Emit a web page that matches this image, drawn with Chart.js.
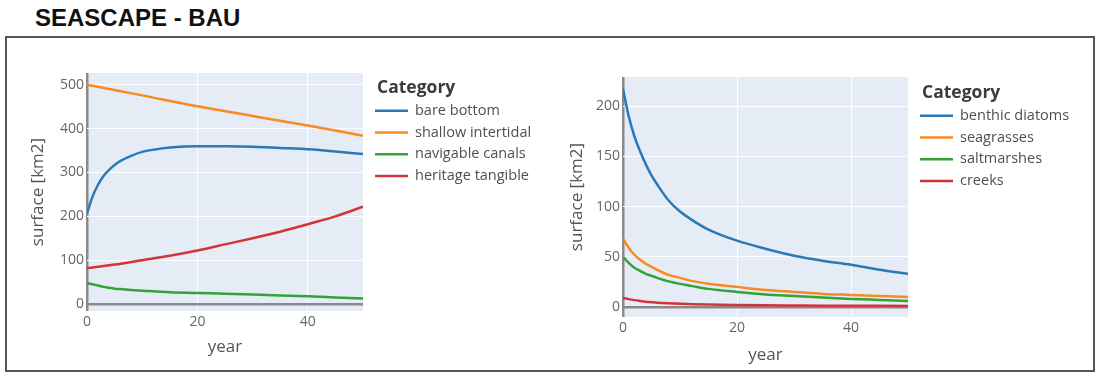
<!DOCTYPE html>
<html>
<head>
<meta charset="utf-8">
<script src="https://cdn.jsdelivr.net/npm/chart.js@4.4.1/dist/chart.umd.min.js"></script>
<style>
  html, body { margin: 0; padding: 0; background: #fff; width: 1097px; height: 375px; overflow: hidden; }
  #title { position: absolute; left: 35px; top: 4px; font: bold 24px "Liberation Sans", Arial, sans-serif; color: #111; white-space: nowrap; }
  #frame { position: absolute; left: 5px; top: 36px; width: 1086px; height: 332px; border: 2px solid #555; }
  canvas { position: absolute; }
  #leftChart { left: 10px; top: 40px; width: 540px; height: 325px; }
  #rightChart { left: 560px; top: 40px; width: 530px; height: 325px; }
</style>
</head>
<body>
<div id="title">SEASCAPE - BAU</div>
<div id="frame"></div>
<canvas id="leftChart" width="540" height="325"></canvas>
<canvas id="rightChart" width="530" height="325"></canvas>
<script>
// ---- Land-cover surfaces (km2) over the simulation years ----
const yearsLeft = [0, 1, 2, 3, 4, 5, 6, 8, 10, 12, 15, 20, 25, 30, 35, 40, 45, 50];
const bareBottom = [207, 245, 272, 292, 306, 317, 326, 338, 347, 352, 357, 360, 360, 359, 356, 353, 348, 342];
const navigableCanals = [48, 45, 42, 39, 37, 35, 34, 32, 30, 29, 27, 25, 23.5, 21.5, 19.5, 17.5, 15, 12.5];
const yearsLinear = [0, 10, 20, 30, 40, 50];
const shallowIntertidal = [500, 476, 451, 429, 407, 384];
const yearsHeritage = [0, 5, 10, 15, 20, 25, 30, 35, 40, 45, 50];
const heritageTangible = [82, 90, 100, 110, 122, 136, 150, 165, 182, 200, 222];

// ---- Habitat surfaces (km2) over the simulation years ----
const yearsRight = [0, 1, 2, 3, 4, 5, 6, 8, 10, 12, 15, 20, 25, 30, 35, 40, 45, 50];
const benthicDiatoms = [217, 190, 170, 155, 142, 131, 122, 106, 95, 87, 77, 66, 58, 51, 46, 42, 37, 33];
const seagrasses = [68, 59, 52, 47, 43, 40, 37, 32, 29, 26, 23, 20, 17, 15, 13, 12, 11, 10];
const saltmarshes = [50, 44, 39, 36, 33, 31, 29, 25.5, 23, 21, 18, 15, 12.5, 11, 9.5, 8, 7, 6];
const creeks = [9, 7.8, 6.8, 6, 5.3, 4.8, 4.3, 3.6, 3.1, 2.8, 2.4, 2, 1.7, 1.5, 1.3, 1.2, 1.1, 1];

const xTicks = [0, 20, 40];
const legendTitle = 'Category';

const BLUE = '#2a7ab8', ORANGE = '#f98a22', GREEN = '#33a338', RED = '#d3343a';
const FONT = '"Open Sans", "DejaVu Sans", sans-serif';

const pts = (xs, ys) => xs.map((x, i) => ({ x: x, y: ys[i] }));
const series = (label, xs, ys, color) => ({
  label: label,
  data: pts(xs, ys),
  borderColor: color,
  backgroundColor: color,
  borderWidth: 2.5,
  pointRadius: 0,
  cubicInterpolationMode: 'monotone',
  fill: false
});

// plot background
const plotBackground = {
  id: 'plotBackground',
  beforeDraw(chart) {
    const a = chart.chartArea, c = chart.ctx;
    c.save();
    c.fillStyle = '#e5ecf6';
    c.fillRect(a.left, a.top, a.right - a.left, a.bottom - a.top);
    c.restore();
  }
};

// legend with a bold heading and line swatches
const categoryLegend = {
  id: 'categoryLegend',
  afterDraw(chart, args, o) {
    const c = chart.ctx;
    c.save();
    c.textBaseline = 'middle';
    c.textAlign = 'left';
    c.font = 'bold 17.5px ' + FONT;
    c.fillStyle = '#3c3c3c';
    c.fillText(o.title, o.x + 2, o.y);
    c.font = '14.5px ' + FONT;
    chart.data.datasets.forEach((ds, i) => {
      const y = o.y + o.first + i * o.gap;
      c.strokeStyle = ds.borderColor;
      c.lineWidth = 2.5;
      c.beginPath();
      c.moveTo(o.x, y);
      c.lineTo(o.x + 33, y);
      c.stroke();
      c.fillStyle = '#505050';
      c.fillText(ds.label, o.x + 40, y);
    });
    c.restore();
  }
};

function gridColor(ctx) { return ctx.tick && ctx.tick.value === 0 ? '#8a8a8a' : '#ffffff'; }
function gridWidth(ctx) { return ctx.tick && ctx.tick.value === 0 ? 2.5 : 1; }

function makeScales(cfg) {
  return {
    x: {
      type: 'linear', min: 0, max: 50,
      afterBuildTicks: s => { s.ticks = xTicks.map(v => ({ value: v })); },
      afterFit: s => { s.height = cfg.xHeight; },
      ticks: { padding: 3, color: '#666', font: { family: FONT, size: 14 }, maxRotation: 0 },
      grid: { color: gridColor, lineWidth: gridWidth, drawTicks: false },
      border: { display: false },
      title: { display: true, text: 'year', color: '#555', font: { family: FONT, size: 17 }, padding: { top: 0, bottom: cfg.xTitlePad } }
    },
    y: {
      type: 'linear', min: cfg.yMin, max: cfg.yMax,
      afterBuildTicks: s => { s.ticks = cfg.yTicks.map(v => ({ value: v })); },
      afterFit: s => { s.width = cfg.yWidth; },
      ticks: { padding: 3, color: '#666', font: { family: FONT, size: 14 } },
      grid: { color: gridColor, lineWidth: gridWidth, drawTicks: false },
      border: { display: false },
      title: { display: true, text: 'surface [km2]', color: '#555', font: { family: FONT, size: 17 }, padding: { top: cfg.yTitlePad, bottom: 0 } }
    }
  };
}

new Chart(document.getElementById('leftChart'), {
  type: 'line',
  data: {
    datasets: [
      series('bare bottom', yearsLeft, bareBottom, BLUE),
      series('shallow intertidal', yearsLinear, shallowIntertidal, ORANGE),
      series('navigable canals', yearsLeft, navigableCanals, GREEN),
      series('heritage tangible', yearsHeritage, heritageTangible, RED)
    ]
  },
  options: {
    responsive: false,
    animation: false,
    devicePixelRatio: 1,
    layout: { padding: { left: 0, top: 33, right: 187, bottom: 0 } },
    scales: makeScales({ yMin: -16, yMax: 527, yTicks: [0, 100, 200, 300, 400, 500], yWidth: 77, xHeight: 54, yTitlePad: 18, xTitlePad: 8 }),
    plugins: {
      legend: { display: false },
      tooltip: { enabled: false },
      categoryLegend: { title: legendTitle, x: 365, y: 48, first: 22.7, gap: 21.8 }
    }
  },
  plugins: [plotBackground, categoryLegend]
});

new Chart(document.getElementById('rightChart'), {
  type: 'line',
  data: {
    datasets: [
      series('benthic diatoms', yearsRight, benthicDiatoms, BLUE),
      series('seagrasses', yearsRight, seagrasses, ORANGE),
      series('saltmarshes', yearsRight, saltmarshes, GREEN),
      series('creeks', yearsRight, creeks, RED)
    ]
  },
  options: {
    responsive: false,
    animation: false,
    devicePixelRatio: 1,
    layout: { padding: { left: 0, top: 37, right: 182, bottom: 0 } },
    scales: makeScales({ yMin: -10, yMax: 229, yTicks: [0, 50, 100, 150, 200], yWidth: 63, xHeight: 48, yTitlePad: 7, xTitlePad: 0 }),
    plugins: {
      legend: { display: false },
      tooltip: { enabled: false },
      categoryLegend: { title: legendTitle, x: 360, y: 53, first: 22.7, gap: 21.8 }
    }
  },
  plugins: [plotBackground, categoryLegend]
});
</script>
</body>
</html>
